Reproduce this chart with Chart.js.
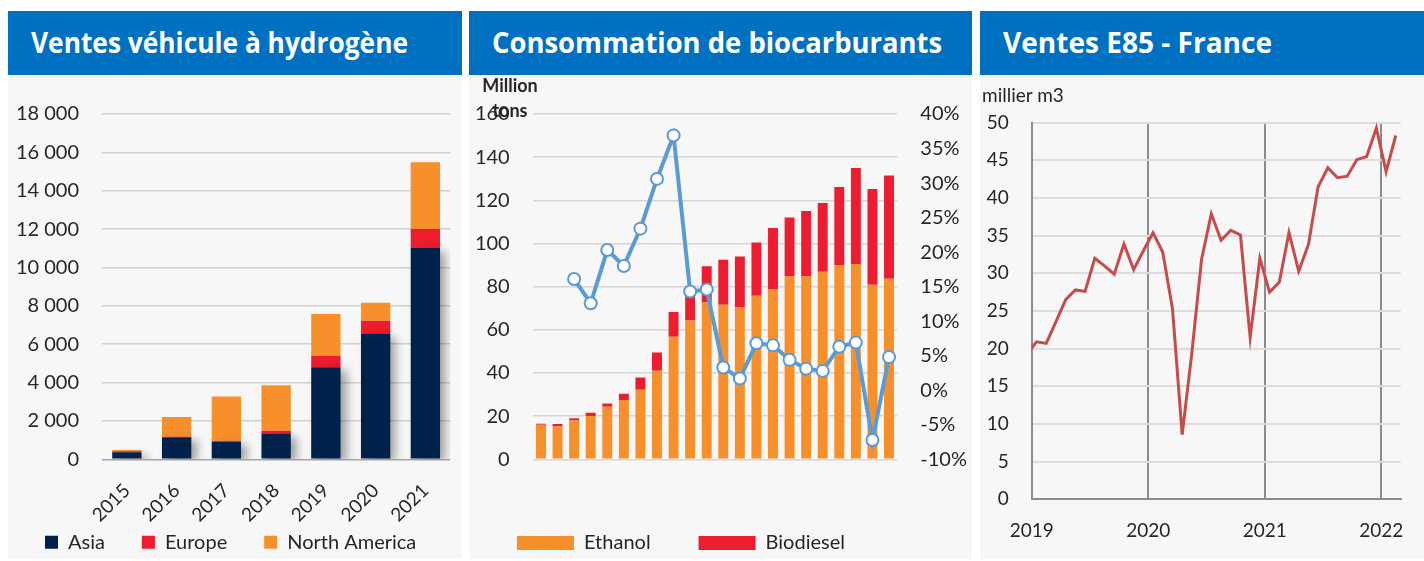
<!DOCTYPE html>
<html><head><meta charset="utf-8">
<script src="https://cdn.jsdelivr.net/npm/chart.js@4.4.1/dist/chart.umd.min.js"></script>
<style>
html,body{margin:0;padding:0;background:#fff;width:1424px;height:561px;overflow:hidden;font-family:Lato,sans-serif;}
.hdr{position:absolute;top:11px;height:64px;background:#0070C0;overflow:hidden;}
.ttl{position:absolute;left:23px;top:0;line-height:62px;color:#fff;font-family:'Open Sans',sans-serif;font-weight:700;font-size:29px;white-space:nowrap;transform-origin:0 50%;}
.body{position:absolute;top:75px;height:484px;background:#f7f7f7;}
canvas{position:absolute;}
.lbl{position:absolute;color:#262626;white-space:nowrap;z-index:5;}
</style></head>
<body>
<div class="hdr" style="left:8px;width:454px"><span class="ttl" data-w="377">Ventes véhicule à hydrogène</span></div>
<div class="hdr" style="left:469px;width:503px"><span class="ttl" data-w="450">Consommation de biocarburants</span></div>
<div class="hdr" style="left:980px;width:444px"><span class="ttl" data-w="269">Ventes E85 - France</span></div>
<div class="body" style="left:8px;width:454px"></div>
<div class="body" style="left:469px;width:503px"></div>
<div class="body" style="left:980px;width:444px"></div>
<canvas id="c1" width="454" height="486" style="left:8px;top:75px"></canvas>
<canvas id="c2" width="503" height="488" style="left:469px;top:75px"></canvas>
<canvas id="c3" width="444" height="486" style="left:980px;top:75px"></canvas>
<div class="lbl" style="left:470px;top:73px;width:80px;text-align:center;font-weight:700;font-size:18px;line-height:25px">Million<br>tons</div>
<div class="lbl" style="left:982px;top:83px;font-size:19px;line-height:24px">millier m3</div>
<script>
// ---- Panel 1 : Ventes véhicule à hydrogène ----
const h2Years = ['2015','2016','2017','2018','2019','2020','2021'];
const h2Asia = [370, 1150, 920, 1320, 4800, 6530, 11020];
const h2Europe = [50, 20, 50, 170, 590, 690, 990];
const h2NorthAmerica = [70, 1040, 2300, 2370, 2190, 940, 3480];

// ---- Panel 2 : Consommation de biocarburants ----
const bioYears = ['2000','2001','2002','2003','2004','2005','2006','2007','2008','2009','2010','2011','2012','2013','2014','2015','2016','2017','2018','2019','2020','2021'];
const bioEthanol = [16, 15.2, 18, 20.1, 24.3, 27.5, 32.2, 41, 56.8, 64.3, 72.7, 71.6, 70.5, 75.8, 78.9, 84.7, 84.7, 86.9, 90, 90.5, 80.9, 83.7];
const bioBiodiesel = [0.5, 1.2, 1, 1.5, 1.5, 2.9, 5.7, 8.5, 11.4, 15.7, 16.7, 20.9, 23.5, 24.6, 28.3, 27.3, 30.4, 31.9, 36.2, 44.5, 44.4, 47.8];
const bioGrowth = [null, null, 16.1, 12.6, 20.3, 18.0, 23.4, 30.6, 36.9, 14.3, 14.6, 3.3, 1.7, 6.8, 6.5, 4.4, 3.1, 2.8, 6.3, 6.9, -7.2, 4.8];

// ---- Panel 3 : Ventes E85 - France (milliers m3) ----
const e85Months = ['2018-12','2019-01','2019-02','2019-03','2019-04','2019-05','2019-06','2019-07','2019-08','2019-09','2019-10','2019-11','2019-12',
  '2020-01','2020-02','2020-03','2020-04','2020-05','2020-06','2020-07','2020-08','2020-09','2020-10','2020-11','2020-12',
  '2021-01','2021-02','2021-03','2021-04','2021-05','2021-06','2021-07','2021-08','2021-09','2021-10','2021-11','2021-12',
  '2022-01','2022-02'];
const e85Values = [19.3, 20.9, 20.7, 23.6, 26.5, 27.8, 27.6, 32.0, 31.0, 29.9, 33.9, 30.5, 33.0,
  35.4, 32.8, 25.3, 8.6, 19.5, 31.9, 37.9, 34.4, 35.7, 35.1, 21.5, 32.0,
  27.5, 28.8, 35.4, 30.3, 33.8, 41.5, 44.0, 42.7, 42.9, 45.1, 45.5, 49.3,
  43.5, 48.3];
const e85YearTicks = ['2019','2020','2021','2022'];

Chart.defaults.font.family = 'Lato, sans-serif';
Chart.defaults.color = '#262626';
Chart.defaults.animation = false;
Chart.defaults.responsive = false;
Chart.defaults.plugins.tooltip.enabled = false;

const fmt = v => String(v).replace(/\B(?=(\d{3})+(?!\d))/g, ' ');

const shadowPlugin = {
  id: 'barShadow',
  beforeDatasetDraw(chart, args) {
    if (args.index === 0) {
      const c = chart.ctx; c.save();
      c.shadowColor = 'rgba(0,0,0,0.35)'; c.shadowBlur = 9; c.shadowOffsetX = 6; c.shadowOffsetY = 3;
    }
  },
  afterDatasetDraw(chart, args) { if (args.index === 0) chart.ctx.restore(); }
};

// extends the legend block upward so it can sit beside the tall rotated-label axis
const legendLift = dy => ({
  id: 'legendLift',
  afterLayout(chart) {
    const l = chart.legend;
    if (l) { l.top += dy; l.bottom = chart.height; l.height = l.bottom - l.top; }
  }
});

new Chart(document.getElementById('c1'), {
  type: 'bar',
  data: {
    labels: h2Years,
    datasets: [
      {label: 'Asia', data: h2Asia, backgroundColor: '#00214A'},
      {label: 'Europe', data: h2Europe, backgroundColor: '#ED1C2E'},
      {label: 'North America', data: h2NorthAmerica, backgroundColor: '#F7902A'}
    ]
  },
  options: {
    layout: {padding: {top: 39, right: 0, bottom: 0, left: 0}},
    datasets: {bar: {categoryPercentage: 1, barPercentage: 0.59}},
    scales: {
      x: {stacked: true, grid: {display: false, drawTicks: false}, border: {display: false},
          ticks: {minRotation: 45, maxRotation: 45, padding: 20, font: {size: 19}, color: '#262626'},
          afterFit: a => { a.height = 68; }},
      y: {stacked: true, min: 0, max: 18000,
          ticks: {stepSize: 2000, padding: 23, font: {size: 20}, color: '#262626', callback: v => fmt(v)},
          grid: {color: c => c.tick && c.tick.value === 0 ? '#a6a6a6' : '#d0d0d0', lineWidth: 1.5, drawTicks: false},
          border: {display: false},
          afterFit: a => { a.width = 94; }},
      yGap: {position: 'right', min: 0, max: 1,
          ticks: {display: false}, grid: {display: false, drawTicks: false}, border: {display: false},
          afterFit: a => { a.width = 7; }}
    },
    plugins: {
      legend: {position: 'bottom', align: 'start', maxHeight: 33.7,
        labels: {boxWidth: 13, boxHeight: 13, padding: 37, font: {size: 20}, color: '#262626'}}
    }
  },
  plugins: [shadowPlugin, legendLift(-32)]
});

new Chart(document.getElementById('c2'), {
  type: 'bar',
  data: {
    labels: bioYears,
    datasets: [
      {label: 'Ethanol', data: bioEthanol, backgroundColor: '#F7902A', order: 1},
      {label: 'Biodiesel', data: bioBiodiesel, backgroundColor: '#ED1C2E', order: 1},
      {type: 'line', label: 'Croissance', data: bioGrowth, yAxisID: 'y1', order: 0,
       borderColor: '#5B9BD5', borderWidth: 4, tension: 0,
       pointRadius: 6, pointBackgroundColor: '#ffffff', pointBorderColor: '#5B9BD5', pointBorderWidth: 2}
    ]
  },
  options: {
    layout: {padding: {top: 39, right: 0, bottom: 0, left: 0}},
    datasets: {bar: {categoryPercentage: 1, barPercentage: 0.6}},
    scales: {
      x: {stacked: true, grid: {display: false, drawTicks: false}, border: {display: false},
          ticks: {autoSkip: false, maxRotation: 0, padding: 22, font: {size: 20}, color: '#262626',
                  callback: (v, i) => (+bioYears[i] % 5 === 0 ? bioYears[i] : '')},
          afterFit: a => { a.height = 25.7; }},
      y: {stacked: true, min: 0, max: 160, position: 'left',
          ticks: {stepSize: 20, padding: 23, font: {size: 20}, color: '#262626'},
          grid: {color: '#d6d6d6', lineWidth: 1.5, drawTicks: false},
          border: {display: false},
          afterFit: a => { a.width = 63.7; }},
      y1: {min: -10, max: 40, position: 'right',
          ticks: {stepSize: 5, padding: 23, font: {size: 20}, color: '#262626', callback: v => v + '%'},
          grid: {display: false, drawTicks: false},
          border: {display: false},
          afterFit: a => { a.width = 74.7; }}
    },
    plugins: {
      legend: {position: 'bottom', align: 'start',
        labels: {boxWidth: 57, boxHeight: 14, padding: 48, font: {size: 20}, color: '#262626',
                 filter: item => item.datasetIndex !== 2}}
    }
  }
});

const e85Points = e85Months.map((m, i) => {
  const [yy, mm] = m.split('-').map(Number);
  return {x: (yy - 2019) * 12 + (mm - 1) + 0.5, y: e85Values[i]};
});

new Chart(document.getElementById('c3'), {
  type: 'line',
  data: {
    datasets: [{label: 'E85', data: e85Points, borderColor: '#C84B4B', borderWidth: 3, pointRadius: 0, tension: 0}]
  },
  options: {
    layout: {padding: {top: 47.7, right: 14, bottom: 0, left: 0}},
    scales: {
      x: {type: 'linear', min: 0, max: 38,
          afterBuildTicks: a => { a.ticks = e85YearTicks.map((t, i) => ({value: i * 12})); },
          ticks: {padding: 20, font: {size: 19}, color: '#262626', maxRotation: 0,
                  callback: (v) => e85YearTicks[Math.round(v / 12)]},
          grid: {color: '#8c8c8c', lineWidth: 2, drawTicks: false},
          border: {color: '#8c8c8c', width: 2},
          afterFit: a => { a.height = 61.7; }},
      y: {min: 0, max: 50,
          ticks: {stepSize: 5, padding: 23, font: {size: 19}, color: '#262626'},
          grid: {color: '#dcdcdc', lineWidth: 2, drawTicks: false},
          border: {color: '#8c8c8c', width: 2},
          afterFit: a => { a.width = 51.7; }}
    },
    plugins: {legend: {display: false}}
  }
});

function fitTitles() {
  document.querySelectorAll('.ttl').forEach(el => {
    el.style.transform = 'none';
    const w = el.getBoundingClientRect().width;
    el.style.transform = 'scaleX(' + (+el.dataset.w / w) + ')';
  });
}
fitTitles();
if (document.fonts && document.fonts.ready) document.fonts.ready.then(fitTitles);
</script>
</body></html>
